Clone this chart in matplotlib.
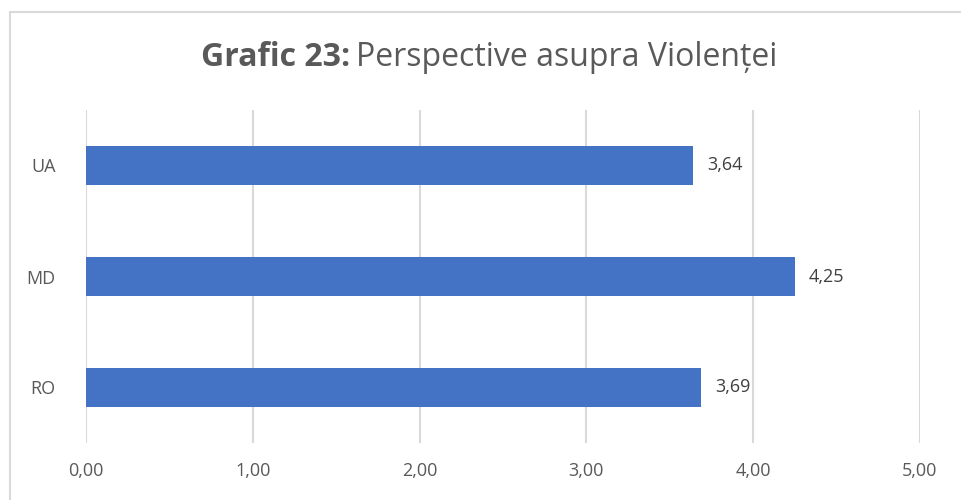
import matplotlib.pyplot as plt
from matplotlib.patches import Rectangle
from matplotlib.ticker import FuncFormatter

# Date
categorii = ["RO", "MD", "UA"]
valori = [3.69, 4.25, 3.64]
etichete = ["3,69", "4,25", "3,64"]
ticks_x = [0, 1, 2, 3, 4, 5]

plt.rcParams['font.family'] = ['Open Sans', 'DejaVu Sans']

fig = plt.figure(figsize=(9.62, 5.0), dpi=100)
ax = fig.add_axes([86 / 962, 1 - 443 / 500, (920 - 86) / 962, 333 / 500])

# chenar in jurul graficului (continua dincolo de marginea imaginii)
fig.patches.append(Rectangle((9.5 / 962, -0.1), 1.2, 1.1 - 12 / 500,
                             transform=fig.transFigure, fill=False,
                             edgecolor='#d9d9d9', linewidth=1.5))

y = range(len(categorii))
ax.barh(y, valori, height=0.35, color='#4472c4', zorder=3)

for i, (v, t) in enumerate(zip(valori, etichete)):
    ax.text(v + 0.085, i, t, va='center', ha='left', fontsize=13, color='#404040')

ax.set_xlim(0, 5)
ax.set_ylim(-0.5, 2.5)
ax.set_xticks(ticks_x)
ax.xaxis.set_major_formatter(FuncFormatter(lambda v, p: f"{v:.2f}".replace('.', ',')))
ax.set_yticks(list(y))
ax.set_yticklabels(categorii)
ax.tick_params(axis='both', length=0, labelsize=13, labelcolor='#595959')
ax.tick_params(axis='x', pad=14)
ax.tick_params(axis='y', pad=22)
ax.grid(axis='x', color='#d9d9d9', linewidth=1.5, zorder=0)
for s in ax.spines.values():
    s.set_visible(False)

# titlu: partea bold + partea normala
fig.text(350 / 962, 1 - 57 / 500, "Grafic 23:", ha='right', va='center',
         fontsize=23, fontweight='bold', color='#595959')
fig.text(356 / 962, 1 - 57 / 500, "Perspective asupra Violenței", ha='left', va='center',
         fontsize=23, color='#595959')

fig.savefig("out.png", dpi=100)
